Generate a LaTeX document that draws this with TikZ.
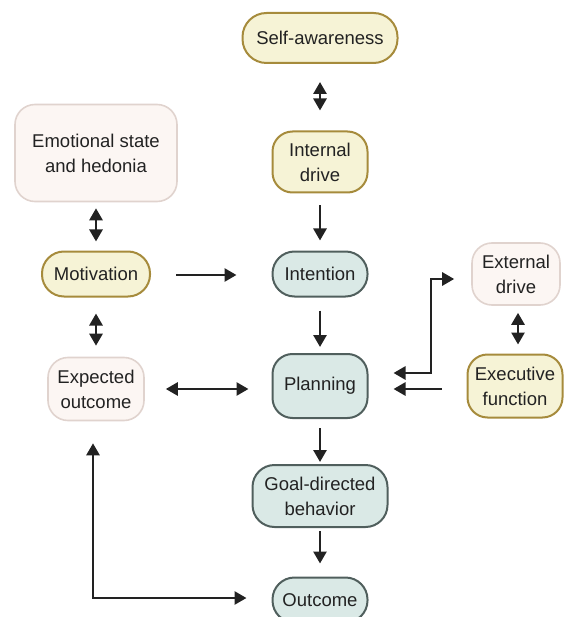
\documentclass[tikz,border=0pt]{standalone}
\usepackage{fontspec}
\setmainfont{Liberation Sans}
\usetikzlibrary{arrows.meta}
\definecolor{yfill}{HTML}{F6F3D6}
\definecolor{ydraw}{HTML}{A68B3C}
\definecolor{bfill}{HTML}{DAE9E6}
\definecolor{bdraw}{HTML}{505F5D}
\definecolor{pfill}{HTML}{FCF6F3}
\definecolor{pdraw}{HTML}{E0D3CE}
\definecolor{ink}{HTML}{222222}
\begin{document}
\begin{tikzpicture}[x=1pt,y=-1pt,
  box/.style={draw, line width=2pt, inner sep=0pt, align=center,
    font=\fontsize{18.5}{25}\selectfont, text=ink},
  ybox/.style={box, fill=yfill, draw=ydraw},
  bbox/.style={box, fill=bfill, draw=bdraw},
  pbox/.style={box, fill=pfill, draw=pdraw, line width=1.6pt},
  sz/.style n args={3}{minimum width=#1pt, minimum height=#2pt, rounded corners=#3pt},
  arr/.style={draw=ink, line width=2.7pt, -{Triangle[length=12pt,width=13pt]}},
  darr/.style={draw=ink, line width=2.7pt, {Triangle[length=12pt,width=13pt]}-{Triangle[length=12pt,width=13pt]}}
]
\useasboundingbox (0,0) rectangle (566,617);
\clip (0,0) rectangle (566,617);

\node[ybox, sz={155}{50}{24}] (self) at (320,38) {Self-awareness};
\node[ybox, sz={95}{61}{20}] (internal) at (320,162) {Internal\\drive};
\node[bbox, sz={95}{45}{22}] (intention) at (320,274) {Intention};
\node[bbox, sz={95}{64}{20}] (planning) at (320,386) {Planning};
\node[bbox, sz={135}{62}{22}] (goal) at (320,496) {Goal-directed\\behavior};
\node[bbox, sz={95}{45}{22}] (outcome) at (320,600) {Outcome};

\node[pbox, sz={162}{97}{20}] (emotional) at (96,153) {Emotional state\\and hedonia};
\node[ybox, sz={108}{45}{22}] (motivation) at (96,274) {Motivation};
\node[pbox, sz={96}{63}{20}] (expected) at (96,389) {Expected\\outcome};

\node[pbox, sz={88}{62}{20}] (external) at (516,274) {External\\drive};
\node[ybox, sz={95}{63}{20}] (executive) at (515,386) {Executive\\function};

\draw[darr, shorten <=18pt, shorten >=20pt] (self) -- (internal);
\draw[arr, shorten <=12pt, shorten >=10pt] (internal) -- (intention);
\draw[arr, shorten <=13pt, shorten >=6pt] (intention) -- (planning);
\draw[arr, shorten <=9pt, shorten >=2pt] (planning) -- (goal);
\draw[arr, shorten <=3pt, shorten >=13pt] (goal) -- (outcome);

\draw[darr, shorten <=6pt, shorten >=9pt] (emotional) -- (motivation);
\draw[darr, shorten <=16pt, shorten >=11pt] (motivation) -- (expected);
\draw[arr, shorten <=25pt, shorten >=35pt] (motivation.east |- 0,275) -- (intention.west |- 0,275);
\draw[darr, shorten <=21pt, shorten >=23pt] (expected.east |- 0,389) -- (planning.west |- 0,389);

\draw[darr, shorten <=7pt, shorten >=9pt] (external.south -| 518,0) -- (executive.north -| 518,0);
\draw[arr, shorten <=25pt, shorten >=25pt] (executive.west |- 0,389) -- (planning.east |- 0,389);
\draw[darr, shorten <=25pt, shorten >=17pt] (planning.east |- 0,373) -| (431,279) -- (external.west |- 0,279);

\draw[darr, shorten <=22pt, shorten >=25pt] (expected.south -| 93,0) |- (outcome.west |- 0,598);
\end{tikzpicture}
\end{document}
